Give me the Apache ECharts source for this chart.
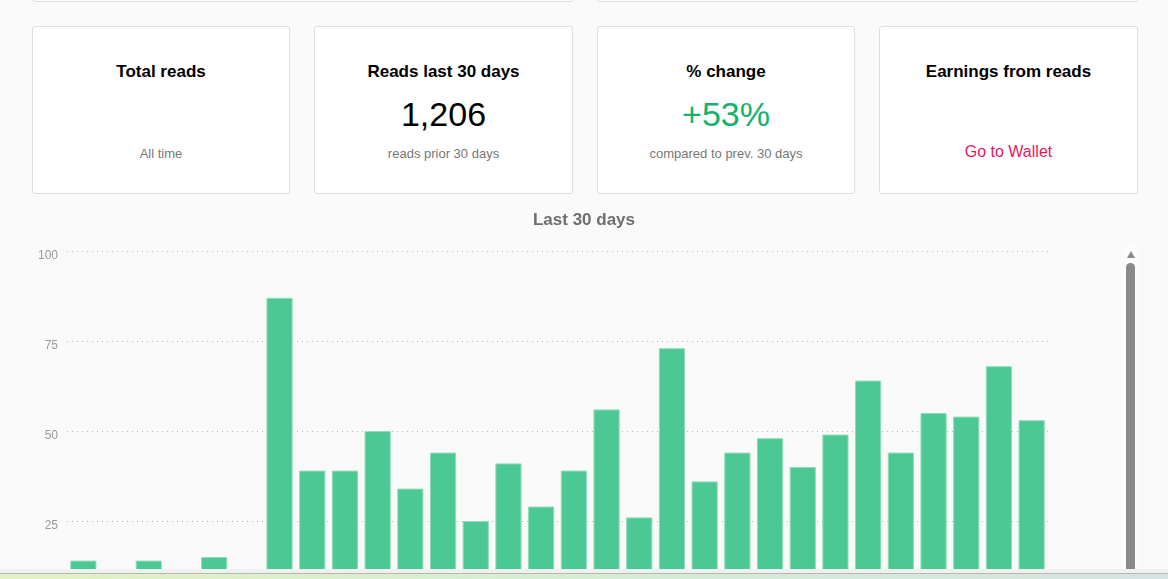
<!DOCTYPE html>
<html>
<head>
<meta charset="utf-8">
<title>Reads</title>
<script src="https://cdn.jsdelivr.net/npm/echarts@6/dist/echarts.min.js"></script>
<style>
	html, body {
		margin: 0;
		padding: 0;
		width: 1168px;
		height: 579px;
		overflow: hidden;
		background: #fafafa;
		font-family: "Liberation Sans", Arial, sans-serif;
	}
	.view {
		position: absolute;
		left: 0;
		top: 0;
		width: 1168px;
		height: 569px;
		overflow: hidden;
	}
	.card {
		position: absolute;
		box-sizing: border-box;
		background: #fff;
		border: 1px solid #dedede;
		border-radius: 3px;
		text-align: center;
	}
	.card h3 {
		position: absolute;
		left: 0;
		right: 0;
		top: 35px;
		margin: 0;
		font-size: 17px;
		font-weight: bold;
		color: #000;
	}
	.card .big {
		position: absolute;
		left: 0;
		right: 0;
		top: 68px;
		font-size: 34px;
		color: #000;
	}
	.card .sub {
		position: absolute;
		left: 0;
		right: 0;
		top: 119px;
		font-size: 13px;
		color: #777;
	}
	.card .link {
		position: absolute;
		left: 0;
		right: 0;
		top: 116px;
		font-size: 16px;
		color: #e8175d;
	}
	#chart {
		position: absolute;
		left: 0;
		top: 200px;
		width: 1168px;
		height: 440px;
	}
	.sb-back {
		position: absolute;
		left: 1123px;
		top: 245px;
		width: 15px;
		height: 330px;
		background: #fcfcfc;
	}
	.sb-arrow {
		position: absolute;
		left: 1127px;
		top: 251px;
		width: 0;
		height: 0;
		border-left: 4px solid transparent;
		border-right: 4px solid transparent;
		border-bottom: 7px solid #8a8a8a;
	}
	.sb-thumb {
		position: absolute;
		left: 1126px;
		top: 263px;
		width: 9px;
		height: 320px;
		border-radius: 5px 5px 0 0;
		background: #8a8a8a;
	}
	.bottom {
		position: absolute;
		left: 0;
		top: 569px;
		width: 1168px;
		height: 10px;
		background: #f0f0f0;
	}
	.bottom .bar {
		position: absolute;
		left: 0;
		top: 4px;
		width: 1168px;
		height: 6px;
		border-top: 1px solid #b5b9b5;
		background: linear-gradient(to right, #e3f2c4, #d6ecd4 50%, #d6e4e2);
	}
</style>
</head>
<body>
<div class="view">
	<div class="card" style="left:32px;top:-20px;width:541px;height:22px;"></div>
	<div class="card" style="left:597px;top:-20px;width:541px;height:22px;"></div>

	<div class="card" style="left:32px;top:26px;width:258px;height:168px;">
		<h3>Total reads</h3>
		<div class="sub">All time</div>
	</div>
	<div class="card" style="left:314px;top:26px;width:259px;height:168px;">
		<h3>Reads last 30 days</h3>
		<div class="big">1,206</div>
		<div class="sub">reads prior 30 days</div>
	</div>
	<div class="card" style="left:597px;top:26px;width:258px;height:168px;">
		<h3>% change</h3>
		<div class="big" style="color:#13b26e;">+53%</div>
		<div class="sub">compared to prev. 30 days</div>
	</div>
	<div class="card" style="left:879px;top:26px;width:259px;height:168px;">
		<h3>Earnings from reads</h3>
		<div class="link">Go to Wallet</div>
	</div>

	<div id="chart"></div>

	<div class="sb-back"></div>
	<div class="sb-arrow"></div>
	<div class="sb-thumb"></div>
</div>
<div class="bottom"><div class="bar"></div></div>

<script>
// one bar per day, oldest first
var days = ["1", "2", "3", "4", "5", "6", "7", "8", "9", "10",
	"11", "12", "13", "14", "15", "16", "17", "18", "19", "20",
	"21", "22", "23", "24", "25", "26", "27", "28", "29", "30"];
var reads = [14, 9, 14, 8, 15, 9, 87, 39, 39, 50,
	34, 44, 25, 41, 29, 39, 56, 26, 73, 36,
	44, 48, 40, 49, 64, 44, 55, 54, 68, 53];
var yTicks = [0, 25, 50, 75, 100];

var chart = echarts.init(document.getElementById('chart'));
chart.setOption({
	animation: false,
	title: {
		text: 'Last 30 days',
		left: 'center',
		top: 7,
		textStyle: {
			fontSize: 17,
			fontWeight: 'bold',
			color: '#6e6e6e',
			fontFamily: 'Liberation Sans'
		}
	},
	grid: {
		left: 67,
		top: 51,
		width: 981,
		height: 360
	},
	xAxis: {
		type: 'category',
		data: days,
		axisLine: { show: false },
		axisTick: { show: false },
		axisLabel: { color: '#999', fontSize: 12 }
	},
	yAxis: {
		type: 'value',
		min: yTicks[0],
		max: yTicks[yTicks.length - 1],
		interval: 25,
		axisLine: { show: false },
		axisTick: { show: false },
		axisLabel: {
			color: '#999',
			fontSize: 12,
			margin: 9,
			verticalAlign: 'top',
			lineHeight: 10,
			fontFamily: 'Liberation Sans'
		},
		splitLine: {
			lineStyle: {
				color: '#b8b8b8',
				type: [1, 4],
				width: 1
			}
		}
	},
	series: [{
		name: 'Reads',
		type: 'bar',
		data: reads,
		barCategoryGap: '20%',
		itemStyle: {
			color: '#4cc894',
			borderColor: '#8fdcba',
			borderWidth: 1
		}
	}]
});
</script>
</body>
</html>
